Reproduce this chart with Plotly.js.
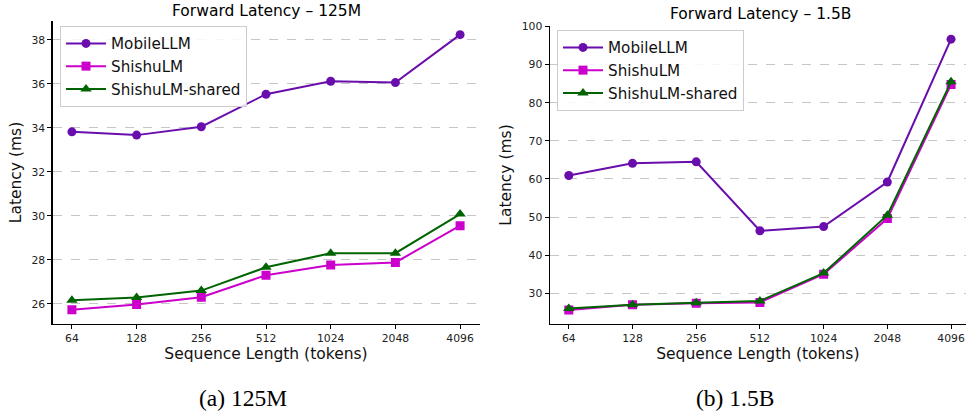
<!DOCTYPE html>
<html>
<head>
<meta charset="utf-8">
<script src="https://cdn.plot.ly/plotly-3.0.1.min.js"></script>
<style>html,body{margin:0;padding:0;background:#fff;}#chart{width:966px;height:415px;}</style>
</head>
<body>
<div id="chart"></div>
<script>
// ---- data ----
const seqLens = ["64", "128", "256", "512", "1024", "2048", "4096"];
const seriesNames = ["MobileLLM", "ShishuLM", "ShishuLM-shared"];
// 125M model
const mobile125 = [33.82, 33.67, 34.05, 35.53, 36.12, 36.06, 38.24];
const shishu125 = [25.73, 25.97, 26.30, 27.30, 27.76, 27.88, 29.55];
const shared125 = [26.16, 26.28, 26.60, 27.66, 28.30, 28.30, 30.08];
// 1.5B model
const mobile15 = [60.9, 64.1, 64.5, 46.4, 47.5, 59.2, 96.7];
const shishu15 = [25.6, 27.0, 27.4, 27.6, 35.0, 49.6, 84.8];
const shared15 = [26.0, 27.0, 27.5, 28.0, 35.3, 50.5, 85.5];
const titles = ["Forward Latency – 125M", "Forward Latency – 1.5B"];
const captions = ["(a) 125M", "(b) 1.5B"];
const xTitle = "Sequence Length (tokens)";
const yTitle = "Latency (ms)";

// ---- styles ----
const colors = ["#6a0dad", "#cc00cc", "#006400"];
const symbols = ["circle", "square", "triangle-up"];
const sizes = [9, 9, 10];
const W = 966, H = 415;
const px = v => v / W, py = v => 1 - v / H;

function mk(y, i, xa, ya, leg) {
  return {
    x: seqLens, y: y, name: seriesNames[i], type: "scatter", mode: "lines+markers",
    xaxis: xa, yaxis: ya, legend: leg, showlegend: true,
    line: {color: colors[i], width: 2},
    marker: {color: colors[i], symbol: symbols[i], size: sizes[i], line: {width: 0}}
  };
}
const traces = [
  mk(mobile125, 0, "x", "y", "legend"),
  mk(shishu125, 1, "x", "y", "legend"),
  mk(shared125, 2, "x", "y", "legend"),
  mk(mobile15, 0, "x2", "y2", "legend2"),
  mk(shishu15, 1, "x2", "y2", "legend2"),
  mk(shared15, 2, "x2", "y2", "legend2")
];

const font = "DejaVu Sans, sans-serif";
function xaxis(domain, range) {
  return {
    domain: domain, type: "category", range: range,
    showline: true, linecolor: "#000", linewidth: 1.2, mirror: false,
    ticks: "outside", ticklen: 4, tickcolor: "#000", tickwidth: 1,
    showgrid: false, zeroline: false,
    tickfont: {family: font, size: 10.8, color: "#222"},
    title: {text: xTitle, font: {family: font, size: 15.5, color: "#111"}, standoff: 3}
  };
}
function yaxis(domain, range, dtick, anchor) {
  return {
    domain: domain, range: range, dtick: dtick, anchor: anchor,
    showline: true, linecolor: "#000", linewidth: 1.2, mirror: false,
    ticks: "outside", ticklen: 4, tickcolor: "#000", tickwidth: 1,
    showgrid: true, gridcolor: "#b8b8b8", griddash: "dash", gridwidth: 0.8,
    zeroline: false,
    tickfont: {family: font, size: 10.8, color: "#222"},
    title: {text: yTitle, font: {family: font, size: 15.5, color: "#111"}, standoff: 6}
  };
}
const legendStyle = (x, y) => ({
  x: x, y: y, xanchor: "left", yanchor: "top",
  bgcolor: "rgba(255,255,255,0.85)", bordercolor: "#cccccc", borderwidth: 1,
  font: {family: font, size: 15.2, color: "#111"}, itemwidth: 40, tracegroupgap: 0
});

const ann = (text, x, y, fam, size) => ({
  text: text, x: px(x), y: py(y), xref: "paper", yref: "paper", showarrow: false,
  xanchor: "center", yanchor: "middle", font: {family: fam, size: size, color: "#000"}
});
const serif = "Liberation Serif, Times New Roman, serif";

const layout = {
  width: W, height: H,
  margin: {l: 0, r: 0, t: 0, b: 0},
  paper_bgcolor: "#fff", plot_bgcolor: "#fff",
  showlegend: true,
  xaxis: xaxis([px(52.5), px(479.5)], [-0.3, 6.3]),
  yaxis: yaxis([py(324), py(21)], [25.08, 38.86], 2, "x"),
  xaxis2: xaxis([px(549.7), 1], [-0.3, 6.235]),
  yaxis2: yaxis([py(324), py(26)], [21.94, 100.15], 10, "x2"),
  legend: legendStyle(px(60), py(26)),
  legend2: legendStyle(px(557), py(30)),
  annotations: [
    ann(titles[0], 266, 10.5, font, 15.5),
    ann(titles[1], 760, 14.5, font, 15.5),
    ann(captions[0], 243, 398, serif, 23.5),
    ann(captions[1], 735, 398, serif, 23.5)
  ]
};
Plotly.newPlot("chart", traces, layout, {staticPlot: true, displayModeBar: false});
</script>
</body>
</html>
